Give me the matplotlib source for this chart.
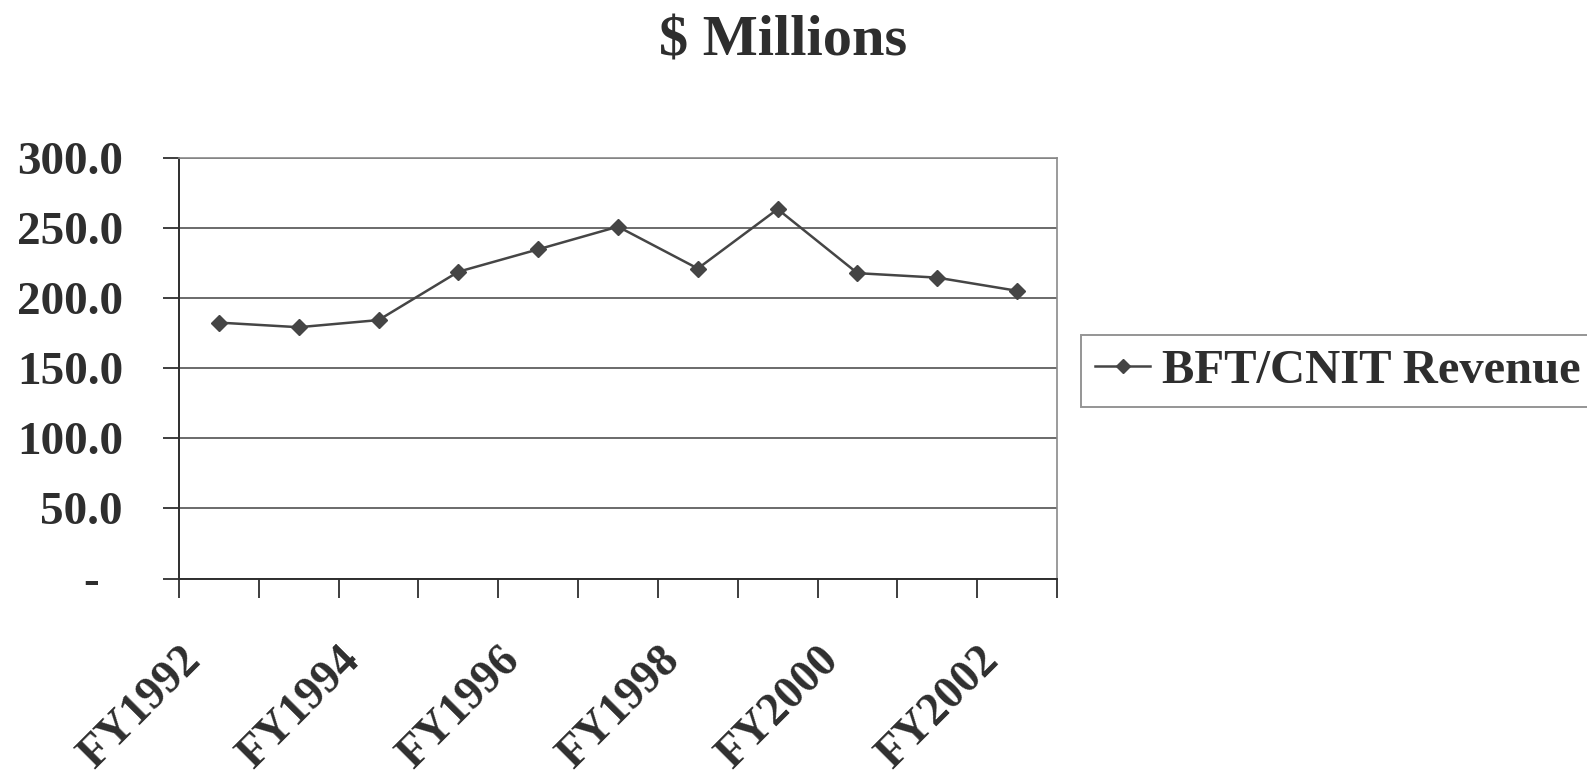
import matplotlib
matplotlib.use("Agg")
import matplotlib.pyplot as plt
from matplotlib.transforms import ScaledTranslation

# Revenue series, fiscal years 1992-2002 ($ millions)
years = ["FY1992", "FY1993", "FY1994", "FY1995", "FY1996", "FY1997",
         "FY1998", "FY1999", "FY2000", "FY2001", "FY2002"]
revenue = [182.7, 179.4, 184.5, 219.0, 235.0, 251.2, 221.3, 263.7, 218.0, 214.8, 205.4]
series_name = "BFT/CNIT Revenue"
y_ticks = [0, 50, 100, 150, 200, 250, 300]
y_labels = ["-  ", "50.0", "100.0", "150.0", "200.0", "250.0", "300.0"]

TEXT = "#2e2e2e"
GRID = "#6a6a6a"
LINE = "#454545"
FONT = "Liberation Serif"

W, H = 1587, 775
fig = plt.figure(figsize=(W / 100, H / 100), dpi=100)
fig.patch.set_facecolor("white")

left, right, top, bottom = 179, 1057, 158.3, 578.5
ax = fig.add_axes([left / W, 1 - bottom / H, (right - left) / W, (bottom - top) / H])

x = list(range(len(years)))
line, = ax.plot(x, revenue, color=LINE, lw=1.8, marker="D", markersize=8,
                markerfacecolor=LINE, markeredgecolor=LINE, label=series_name,
                zorder=3)

ax.set_xlim(-0.5, len(years) - 0.5)
ax.set_ylim(0, 300)

# horizontal gridlines
ax.set_yticks(y_ticks)
ax.set_yticklabels(y_labels, fontsize=34, fontweight="bold", family=FONT, color=TEXT)
ax.yaxis.grid(True, color=GRID, lw=1.4)
ax.set_axisbelow(True)
ax.tick_params(axis="y", length=16 * 0.72, width=1.3, color=TEXT, pad=40 * 0.72)

# category boundaries carry the tick marks, every other category carries a label
ax.set_xticks([i - 0.5 for i in range(len(years) + 1)])
ax.set_xticklabels([])
label_pos = x[::2]
ax.set_xticks(label_pos, minor=True)
ax.set_xticklabels([years[i] for i in label_pos], minor=True, rotation=45,
                   ha="right", va="top", fontsize=33, fontweight="bold",
                   family=FONT, color=TEXT)
ax.tick_params(axis="x", which="major", length=19 * 0.72, width=1.3, color=TEXT)
ax.tick_params(axis="x", which="minor", length=0, pad=61 * 0.72)
shift = ScaledTranslation(-10 / 100, 0, fig.dpi_scale_trans)
for lab in ax.get_xticklabels(minor=True):
    lab.set_transform(lab.get_transform() + shift)

for side in ("left", "bottom"):
    ax.spines[side].set_color(TEXT)
    ax.spines[side].set_linewidth(1.4)
for side in ("top", "right"):
    ax.spines[side].set_color("#8a8a8a")
    ax.spines[side].set_linewidth(1.2)

# title
fig.text(783.5 / W, 1 - 55 / H, "$ Millions", ha="center", va="baseline",
         fontsize=42, fontweight="bold", family=FONT, color=TEXT)

# legend outside the plot area, on the right
leg = fig.legend(handles=[line], loc="upper left",
                 bbox_to_anchor=(1081 / W, 1 - 335 / H),
                 bbox_transform=fig.transFigure,
                 prop={"family": FONT, "weight": "bold", "size": 35},
                 frameon=True, fancybox=False, shadow=False,
                 borderpad=0.29, handlelength=1.13, handletextpad=0.25,
                 borderaxespad=0, markerscale=0.9)
leg.get_frame().set_edgecolor("#7a7a7a")
leg.get_frame().set_linewidth(1.4)
for t in leg.get_texts():
    t.set_color(TEXT)

fig.savefig("out.png", dpi=100, facecolor="white")
